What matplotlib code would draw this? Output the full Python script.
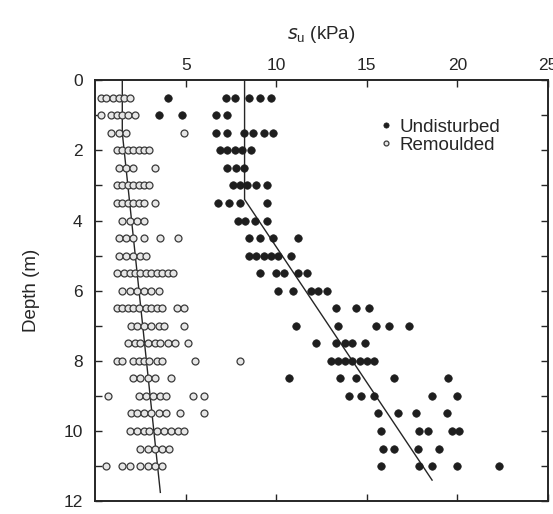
import numpy as np
import matplotlib
matplotlib.use("Agg")
import matplotlib.pyplot as plt

plt.rcParams['font.family'] = ['Liberation Sans', 'DejaVu Sans']

# depth of each test row (m)
depth_rows = [0.5, 1.0, 1.5, 2.0, 2.5, 3.0, 3.5, 4.0, 4.5, 5.0, 5.5,
              6.0, 6.5, 7.0, 7.5, 8.0, 8.5, 9.0, 9.5, 10.0, 10.5, 11.0]

# undisturbed su (kPa) per row
undisturbed_su = [
    [4.0, 7.2, 7.7, 8.5, 9.1, 9.7],
    [3.5, 4.8, 6.7, 7.3],
    [6.7, 7.3, 8.2, 8.7, 9.3, 9.8],
    [6.9, 7.3, 7.7, 8.1, 8.6],
    [7.3, 7.8, 8.2],
    [7.6, 8.0, 8.4, 8.9, 9.5],
    [6.8, 7.4, 8.0, 9.5],
    [7.9, 8.3, 8.8, 9.5],
    [8.5, 9.1, 9.8, 11.2],
    [8.5, 8.9, 9.3, 9.7, 10.1, 10.8],
    [9.1, 10.0, 10.4, 11.2, 11.7],
    [10.1, 10.9, 11.9, 12.3, 12.8],
    [13.3, 14.4, 15.1],
    [11.1, 13.4, 15.5, 16.2, 17.3],
    [12.2, 13.3, 13.8, 14.2, 14.9],
    [13.0, 13.4, 13.8, 14.2, 14.6, 15.0, 15.4],
    [10.7, 13.5, 14.4, 16.5, 19.5],
    [14.0, 14.7, 15.4, 18.6, 20.0],
    [15.6, 16.7, 17.7, 19.4],
    [15.8, 17.9, 18.4, 19.7, 20.1],
    [15.9, 16.5, 17.8, 19.0],
    [15.8, 17.9, 18.6, 20.0, 22.3],
]

# remoulded su (kPa) per row
remoulded_su = [
    [0.3, 0.6, 1.0, 1.3, 1.6, 1.9],
    [0.3, 0.9, 1.2, 1.5, 1.8, 2.2],
    [0.9, 1.3, 1.7, 4.9],
    [1.2, 1.5, 1.8, 2.1, 2.4, 2.7, 3.0],
    [1.3, 1.7, 2.1, 3.3],
    [1.2, 1.5, 1.8, 2.1, 2.4, 2.7, 3.0],
    [1.2, 1.5, 1.8, 2.1, 2.4, 2.7, 3.3],
    [1.5, 1.9, 2.3, 2.7],
    [1.3, 1.7, 2.1, 2.7, 3.6, 4.6],
    [1.3, 1.7, 2.1, 2.5, 2.8],
    [1.2, 1.6, 1.9, 2.2, 2.5, 2.8, 3.1, 3.4, 3.7, 4.0, 4.3],
    [1.5, 1.9, 2.3, 2.7, 3.1, 3.5],
    [1.2, 1.5, 1.8, 2.1, 2.4, 2.8, 3.1, 3.4, 3.7, 4.5, 4.9],
    [2.0, 2.3, 2.7, 3.1, 3.5, 3.8, 4.9],
    [1.8, 2.2, 2.5, 2.9, 3.3, 3.6, 4.0, 4.4, 5.1],
    [1.2, 1.5, 2.1, 2.4, 2.7, 3.0, 3.4, 3.7, 5.5, 8.0],
    [2.1, 2.5, 2.9, 3.3, 4.2],
    [0.7, 2.4, 2.8, 3.2, 3.6, 3.9, 5.4, 6.0],
    [2.0, 2.3, 2.7, 3.1, 3.5, 3.9, 4.7, 6.0],
    [1.9, 2.3, 2.7, 3.0, 3.4, 3.8, 4.2, 4.6, 4.9],
    [2.5, 2.9, 3.3, 3.7, 4.1],
    [0.6, 1.5, 1.9, 2.5, 2.9, 3.3, 3.7],
]

# design lines
und_line_su = [8.25, 8.25, 18.6]
und_line_depth = [0.0, 3.4, 11.4]
rem_line_su = [1.5, 1.5, 3.6]
rem_line_depth = [0.0, 1.5, 11.75]


def flatten(rows):
    xs, ys = [], []
    for d, vals in zip(depth_rows, rows):
        xs.extend(vals)
        ys.extend([d] * len(vals))
    return np.array(xs), np.array(ys)


ux, uy = flatten(undisturbed_su)
rx, ry = flatten(remoulded_su)

fig = plt.figure(figsize=(5.53, 5.14), dpi=100)
ax = fig.add_axes([0.172, 0.025, 0.819, 0.819])

ink = '#262626'
ax.plot(rem_line_su, rem_line_depth, color=ink, lw=1.0, zorder=2)
ax.plot(und_line_su, und_line_depth, color=ink, lw=1.0, zorder=2)

ax.plot(rx, ry, 'o', ms=5, mfc='#e6e6e6', mec='#3a3a3a', mew=0.9,
        ls='none', label='Remoulded', zorder=3)
ax.plot(ux, uy, 'o', ms=5.4, mfc='#1e1e1e', mec='#1e1e1e', mew=0.5,
        ls='none', label='Undisturbed', zorder=3)

ax.set_xlim(0, 25)
ax.set_ylim(12, 0)
ax.xaxis.tick_top()
ax.xaxis.set_label_position('top')
ax.set_xticks([5, 10, 15, 20, 25])
ax.set_yticks([0, 2, 4, 6, 8, 10, 12])
ax.set_yticks(np.arange(0, 13, 1), minor=True)
ax.tick_params(axis='x', which='both', direction='in', top=True, bottom=True,
               length=5, width=1, pad=5, labelsize=12.5, colors=ink)
ax.tick_params(axis='y', which='both', direction='in', left=True, right=True,
               length=5, width=1, pad=9, labelsize=12.5, colors=ink)

for s in ax.spines.values():
    s.set_linewidth(1.4)
    s.set_color(ink)

ax.set_xlabel(r'$s_{\mathregular{u}}$ (kPa)', fontsize=13.5, labelpad=14, color=ink)
ax.set_ylabel('Depth (m)', fontsize=13.5, labelpad=17, color=ink)

h, l = ax.get_legend_handles_labels()
ax.legend(h[::-1], l[::-1], loc='upper left', bbox_to_anchor=(0.6, 0.94),
          frameon=False, fontsize=13.5, markerscale=0.7, handlelength=0.6,
          handletextpad=0.45, labelspacing=0.05, borderpad=0.2,
          labelcolor=ink)

fig.savefig('out.png', dpi=100)
